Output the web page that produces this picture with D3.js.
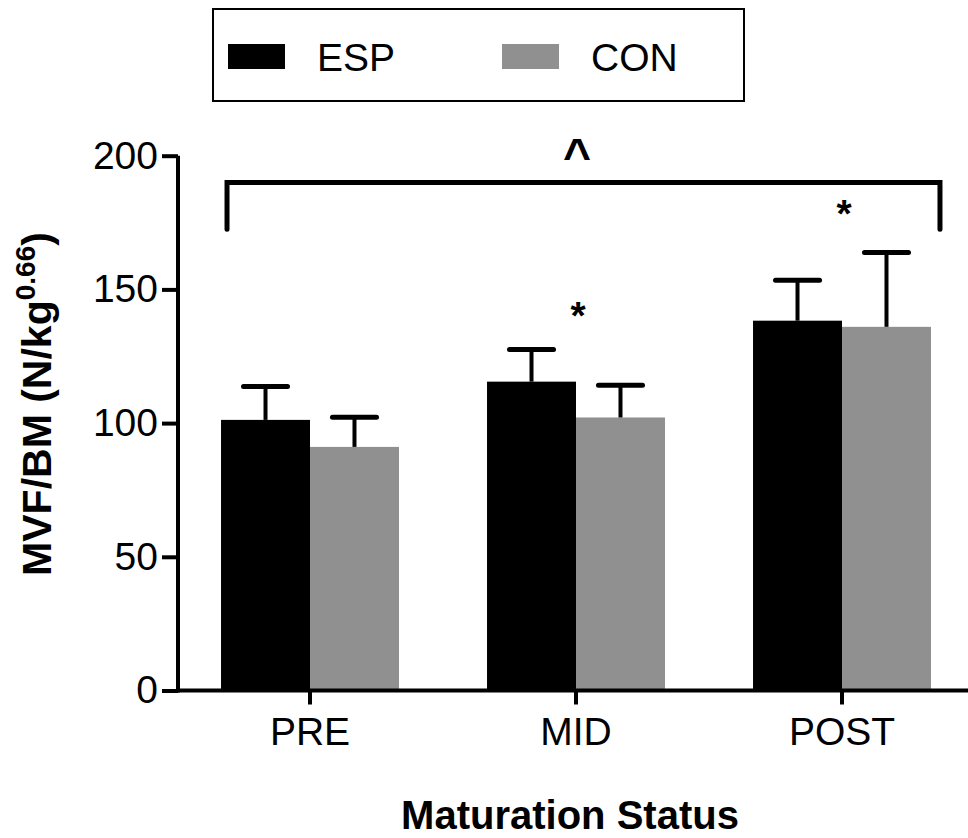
<!DOCTYPE html>
<html>
<head>
<meta charset="utf-8">
<script src="https://cdn.jsdelivr.net/npm/d3@7"></script>
<style>
  html, body { margin: 0; padding: 0; background: #fff; }
  svg { display: block; font-family: "Liberation Sans", Arial, sans-serif; }
</style>
</head>
<body>
<svg id="chart" width="968" height="838"></svg>
<script>
const categories = ["PRE", "MID", "POST"];
const seriesNames = ["ESP", "CON"];
const espMean = [101.2, 115.5, 138.3];
const espSD = [12.5, 12.0, 15.1];
const conMean = [91.1, 102.1, 136.0];
const conSD = [11.1, 12.1, 27.8];
const yTicks = [0, 50, 100, 150, 200];
const colors = { ESP: "#000000", CON: "#909090" };
const starCategories = ["MID", "POST"];
const starValues = [143.5, 181.6];
const bracketValue = 190;
const bracketDrop = 172.5;

const svg = d3.select("#chart");
const data = categories.map((c, i) => ({
  cat: c,
  values: [
    { s: "ESP", mean: espMean[i], sd: espSD[i] },
    { s: "CON", mean: conMean[i], sd: conSD[i] }
  ]
}));

const y = d3.scaleLinear().domain([0, 200]).range([690.5, 155.7]);
const x = d3.scaleBand().domain(categories).range([177, 975])
  .paddingInner(0.331).paddingOuter(0.1655);
const xs = d3.scaleBand().domain(seriesNames).range([0, x.bandwidth()]);

// bars
const g = svg.append("g");
const groups = g.selectAll("g.grp").data(data).join("g")
  .attr("transform", d => `translate(${x(d.cat)},0)`);
groups.selectAll("rect").data(d => d.values).join("rect")
  .attr("x", d => xs(d.s))
  .attr("width", xs.bandwidth())
  .attr("y", d => y(d.mean))
  .attr("height", d => y(0) - y(d.mean))
  .attr("fill", d => colors[d.s]);
// error bars
groups.selectAll("line.err").data(d => d.values).join("line")
  .attr("class", "err")
  .attr("x1", d => xs(d.s) + xs.bandwidth() / 2)
  .attr("x2", d => xs(d.s) + xs.bandwidth() / 2)
  .attr("y1", d => y(d.mean))
  .attr("y2", d => y(d.mean + d.sd))
  .attr("stroke", "#000").attr("stroke-width", 4);
groups.selectAll("line.cap").data(d => d.values).join("line")
  .attr("class", "cap")
  .attr("x1", d => xs(d.s) + xs.bandwidth() / 2 - 22)
  .attr("x2", d => xs(d.s) + xs.bandwidth() / 2 + 22)
  .attr("y1", d => y(d.mean + d.sd))
  .attr("y2", d => y(d.mean + d.sd))
  .attr("stroke", "#000").attr("stroke-width", 5).attr("stroke-linecap", "round");

// axes
const yAxis = svg.append("g").attr("transform", "translate(178,0)")
  .call(d3.axisLeft(y).tickValues(yTicks).tickSize(16).tickPadding(4).tickFormat(d3.format("d")));
yAxis.select(".domain").attr("d", `M0,${y(200)}V${y(0) + 2}`).attr("stroke-width", 4);
yAxis.selectAll(".tick line").attr("stroke-width", 4);
yAxis.selectAll(".tick text").attr("font-size", 39).attr("fill", "#000")
  .attr("font-family", "Liberation Sans, Arial, sans-serif");

const xAxis = svg.append("g").attr("transform", `translate(0,${y(0)})`)
  .call(d3.axisBottom(x).tickSize(14).tickPadding(13).tickSizeOuter(0));
xAxis.select(".domain").attr("d", `M176,0H968`).attr("stroke-width", 4);
xAxis.selectAll(".tick line").attr("stroke-width", 4);
xAxis.selectAll(".tick text").attr("font-size", 39).attr("fill", "#000")
  .attr("font-family", "Liberation Sans, Arial, sans-serif");

// axis titles
svg.append("text")
  .attr("transform", "translate(51,404) rotate(-90)")
  .attr("text-anchor", "middle")
  .attr("font-size", 41).attr("font-weight", "bold")
  .html('MVF/BM (N/kg<tspan dy="-16" font-size="28">0.66</tspan><tspan dy="16">)</tspan>');
svg.append("text")
  .attr("x", 570).attr("y", 829)
  .attr("text-anchor", "middle")
  .attr("font-size", 40).attr("font-weight", "bold")
  .text("Maturation Status");

// significance bracket
const bx1 = x("PRE") + 6;
const bx2 = x("POST") + x.bandwidth() + 9;
svg.append("path")
  .attr("d", `M${bx1},${y(bracketDrop)}V${y(bracketValue)}H${bx2}V${y(bracketDrop)}`)
  .attr("fill", "none").attr("stroke", "#000").attr("stroke-width", 5)
  .attr("stroke-linecap", "round");
svg.append("text")
  .attr("x", x("MID") + x.bandwidth() / 2 + 1).attr("y", 172)
  .attr("text-anchor", "middle").attr("font-size", 48).attr("font-weight", "bold")
  .text("^");
svg.selectAll("text.star").data(starCategories).join("text")
  .attr("class", "star")
  .attr("x", d => x(d) + x.bandwidth() / 2 + 2)
  .attr("y", (d, i) => y(starValues[i]) + 22)
  .attr("text-anchor", "middle").attr("font-size", 39).attr("font-weight", "bold")
  .text("*");

// legend
const leg = svg.append("g");
leg.append("rect").attr("x", 213).attr("y", 9).attr("width", 531).attr("height", 92)
  .attr("fill", "none").attr("stroke", "#000").attr("stroke-width", 2);
const legItems = leg.selectAll("g.li").data(seriesNames).join("g")
  .attr("transform", (d, i) => `translate(${228 + i * 274},44)`);
legItems.append("rect").attr("width", 57).attr("height", 25).attr("fill", d => colors[d]);
legItems.append("text").attr("x", 89).attr("y", 26.5).attr("font-size", 39).text(d => d);
</script>
</body>
</html>
